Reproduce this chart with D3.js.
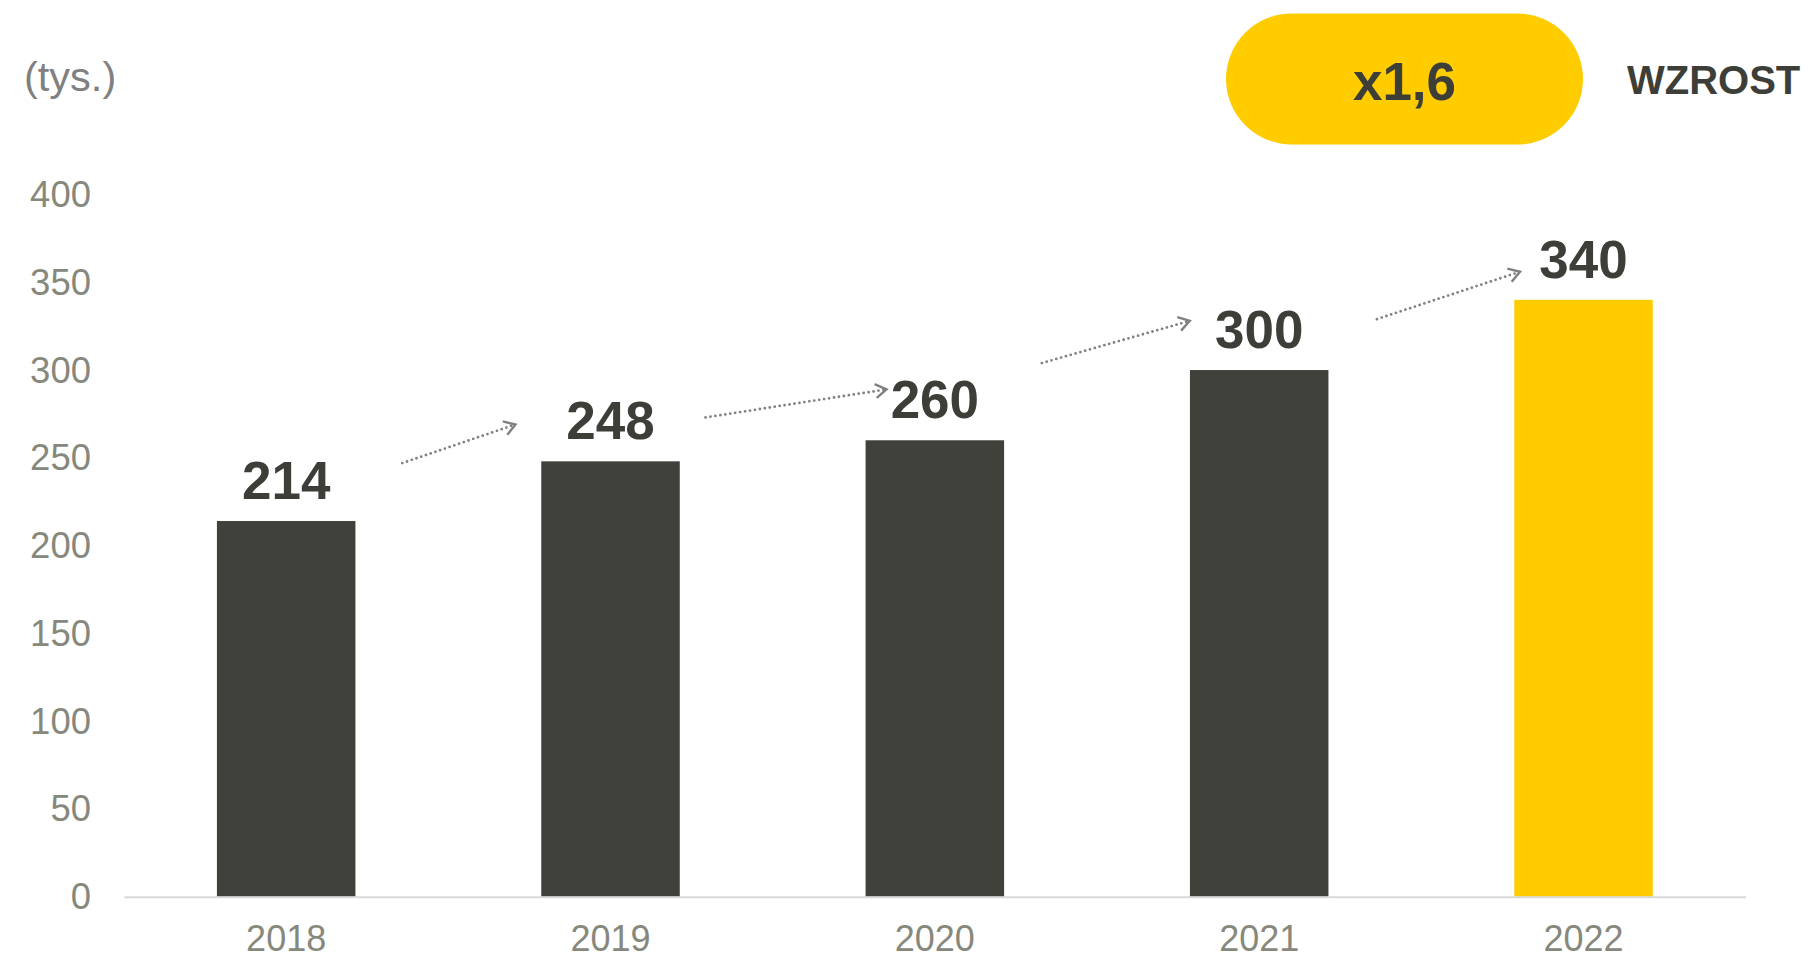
<!DOCTYPE html>
<html>
<head>
<meta charset="utf-8">
<script src="https://cdn.jsdelivr.net/npm/d3@7"></script>
<style>
  html, body { margin: 0; padding: 0; background: #ffffff; }
  svg { display: block; font-family: "Liberation Sans", Arial, sans-serif; }
</style>
</head>
<body>
<svg id="chart" width="1810" height="960"></svg>
<script>
// ---- data ----
const years = ["2018", "2019", "2020", "2021", "2022"];
const values = [214, 248, 260, 300, 340];
const highlight = ["2022"];
const yTicks = [0, 50, 100, 150, 200, 250, 300, 350, 400];
const unitLabel = "(tys.)";
const growthValue = "x1,6";
const growthLabel = "WZROST";
// arrows: start/end in category-index units (between band centres) and value units
const arrowFrom = [[0.358, 247], [1.293, 273], [2.33, 304], [3.363, 329]];
const arrowTo   = [[0.707, 269], [1.851, 289], [2.786, 328], [3.804, 356]];

// ---- styles ----
const DARK = "#40413b";
const YELLOW = "#ffcc00";
const TICK = "#87887c";
const GRAY = "#808080";

const svg = d3.select("#chart");

const x = d3.scaleBand().domain(years).range([124, 1745.7])
  .paddingInner(0.573).paddingOuter(0.2865);
const y = d3.scaleLinear().domain([0, 400]).range([896.7, 194.5]);
const step = x.step();
const cx = i => x(years[0]) + x.bandwidth() / 2 + i * step;

// y axis (labels only)
const yAxis = svg.append("g").attr("transform", "translate(124,0)")
  .call(d3.axisLeft(y).tickValues(yTicks).tickSize(0).tickPadding(33));
yAxis.select(".domain").remove();
yAxis.selectAll("text").attr("fill", TICK).attr("font-size", 36.5)
  .attr("font-family", "'Liberation Sans', Arial, sans-serif").attr("dy", "0.33em");

// bars
svg.append("g").selectAll("rect").data(years).join("rect")
  .attr("x", d => x(d))
  .attr("y", (d, i) => y(values[i]))
  .attr("width", x.bandwidth())
  .attr("height", (d, i) => y(0) - y(values[i]))
  .attr("fill", d => highlight.includes(d) ? YELLOW : DARK);

// x axis
const xAxis = svg.append("g").attr("transform", `translate(0,${y(0)})`)
  .call(d3.axisBottom(x).tickSize(0).tickSizeOuter(0).tickPadding(29));
xAxis.select(".domain").attr("stroke", "#d9d9d9").attr("stroke-width", 2);
xAxis.selectAll("text").attr("fill", TICK).attr("font-size", 36)
  .attr("font-family", "'Liberation Sans', Arial, sans-serif");

// value labels
svg.append("g").selectAll("text").data(years).join("text")
  .attr("x", d => x(d) + x.bandwidth() / 2)
  .attr("y", (d, i) => y(values[i]) - 22)
  .attr("text-anchor", "middle")
  .attr("font-size", 53).attr("font-weight", "bold").attr("fill", "#3d3e38")
  .text((d, i) => values[i]);

// arrow marker
svg.append("defs").append("marker")
  .attr("id", "head").attr("markerUnits", "userSpaceOnUse")
  .attr("viewBox", "-14 -10 16 20").attr("markerWidth", 16).attr("markerHeight", 20)
  .attr("refX", 0).attr("refY", 0).attr("orient", "auto")
  .append("path").attr("d", "M-11,-7 L0,0 L-11,7")
  .attr("fill", "none").attr("stroke", GRAY).attr("stroke-width", 2.4)
  .attr("stroke-linejoin", "miter");

svg.append("g").selectAll("line").data(arrowFrom).join("line")
  .attr("x1", d => cx(d[0])).attr("y1", d => y(d[1]))
  .attr("x2", (d, i) => cx(arrowTo[i][0])).attr("y2", (d, i) => y(arrowTo[i][1]))
  .attr("stroke", GRAY).attr("stroke-width", 2.8)
  .attr("stroke-linecap", "round").attr("stroke-dasharray", "0 5")
  .attr("marker-end", "url(#head)");

// unit label
svg.append("text").attr("x", 24).attr("y", 90.5)
  .attr("font-size", 41.5).attr("fill", GRAY).text(unitLabel);

// growth pill
svg.append("rect").attr("x", 1226).attr("y", 13.5).attr("width", 357).attr("height", 131)
  .attr("rx", 65.5).attr("ry", 65.5).attr("fill", YELLOW);
svg.append("text").attr("x", 1404.5).attr("y", 100).attr("text-anchor", "middle")
  .attr("font-size", 53).attr("font-weight", "bold").attr("fill", "#3d3e38").text(growthValue);
svg.append("text").attr("x", 1627).attr("y", 94.3)
  .attr("font-size", 40).attr("font-weight", "bold").attr("fill", "#3d3e38").text(growthLabel);
</script>
</body>
</html>
